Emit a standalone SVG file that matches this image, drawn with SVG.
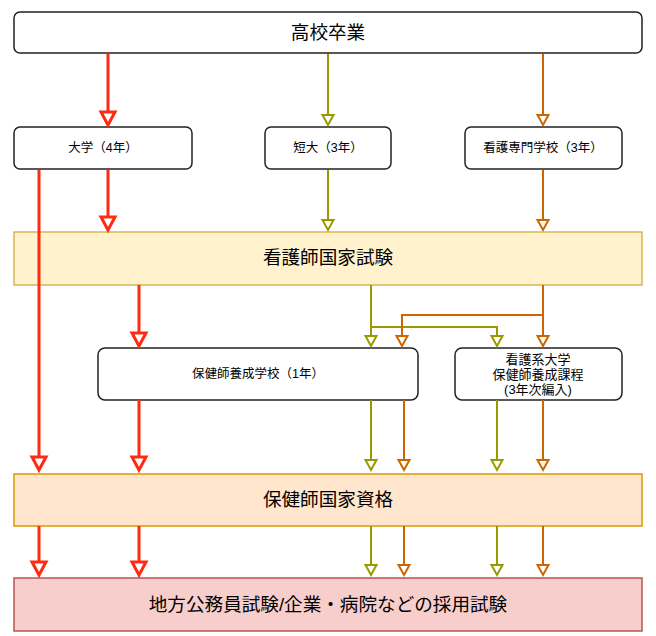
<svg xmlns="http://www.w3.org/2000/svg" width="656" height="636" viewBox="0 0 656 636">
<style>
text{font-family:"Liberation Sans","Noto Sans CJK JP",sans-serif;fill:#000;text-anchor:middle}
.big{font-size:18.6px}
.sm{font-size:12.5px}
.sm2{font-size:13px}
.box{fill:#fff;stroke:#222;stroke-width:1.5}
.red{stroke:#FF2A12;stroke-width:3;fill:none}
.oli{stroke:#999900;stroke-width:2;fill:none}
.ora{stroke:#CC6600;stroke-width:2;fill:none}
</style>
<defs>
<marker id="mr" markerUnits="userSpaceOnUse" markerWidth="20" markerHeight="20" refX="1" refY="7" orient="auto" viewBox="-2 -2 20 20" overflow="visible">
<path d="M1,0 L14,7 L1,14 Z" fill="#fff" stroke="#FF2A12" stroke-width="3"/>
</marker>
<marker id="mo" markerUnits="userSpaceOnUse" markerWidth="16" markerHeight="16" refX="1" refY="5.5" orient="auto" viewBox="-2 -2 16 16" overflow="visible">
<path d="M1,0 L11,5.5 L1,11 Z" fill="#fff" stroke="#999900" stroke-width="2"/>
</marker>
<marker id="mg" markerUnits="userSpaceOnUse" markerWidth="16" markerHeight="16" refX="1" refY="5.5" orient="auto" viewBox="-2 -2 16 16" overflow="visible">
<path d="M1,0 L11,5.5 L1,11 Z" fill="#fff" stroke="#CC6600" stroke-width="2"/>
</marker>
</defs>

<g id="n-koukou"><rect class="box" x="14" y="12" width="628" height="41" rx="6"/><text class="big" x="328" y="39">高校卒業</text></g>
<g id="n-daigaku"><rect class="box" x="14" y="127" width="178" height="42" rx="6"/><text class="sm" x="103" y="152">大学（4年）</text></g>
<g id="n-tandai"><rect class="box" x="265" y="127" width="126" height="42" rx="6"/><text class="sm" x="328" y="152">短大（3年）</text></g>
<g id="n-senmon"><rect class="box" x="465" y="127" width="157" height="42" rx="6"/><text class="sm" x="543" y="152">看護専門学校（3年）</text></g>
<g id="n-kangoshi"><rect x="14" y="232" width="628" height="53" fill="#fff2cc" stroke="#d6b656" stroke-width="1.5"/><text class="big" x="328" y="264">看護師国家試験</text></g>
<g id="n-yousei"><rect class="box" x="98" y="348" width="320" height="52" rx="7"/><text class="sm" x="258" y="378">保健師養成学校（1年）</text></g>
<g id="n-hennyu"><rect class="box" x="455" y="348" width="167" height="52" rx="7"/><text class="sm2" x="538" y="364">看護系大学</text><text class="sm2" x="538" y="379">保健師養成課程</text><text class="sm2" x="538" y="394">(3年次編入)</text></g>
<g id="n-hokenshi"><rect x="14" y="474" width="628" height="52" fill="#ffe6cc" stroke="#d79b00" stroke-width="1.5"/><text class="big" x="328" y="506">保健師国家資格</text></g>
<g id="n-saiyou"><rect x="14" y="578" width="628" height="53" fill="#f8cecc" stroke="#b85450" stroke-width="1.5"/><text class="big" x="328" y="611">地方公務員試験/企業・病院などの採用試験</text></g>

<g id="connectors">
<path class="red" marker-end="url(#mr)" d="M108,54 V112"/>
<path class="red" marker-end="url(#mr)" d="M108,170 V217"/>
<path class="red" marker-end="url(#mr)" d="M39,170 V457"/>
<path class="red" marker-end="url(#mr)" d="M139,285 V333"/>
<path class="red" marker-end="url(#mr)" d="M139,400 V457"/>
<path class="red" marker-end="url(#mr)" d="M39,526 V562"/>
<path class="red" marker-end="url(#mr)" d="M139,526 V562"/>

<path class="oli" marker-end="url(#mo)" d="M328,54 V115"/>
<path class="oli" marker-end="url(#mo)" d="M328,170 V220"/>
<path class="oli" marker-end="url(#mo)" d="M371,285 V336"/>
<path class="oli" marker-end="url(#mo)" d="M371,327 H497 V336"/>
<path class="oli" marker-end="url(#mo)" d="M371,400 V460"/>
<path class="oli" marker-end="url(#mo)" d="M497,400 V460"/>
<path class="oli" marker-end="url(#mo)" d="M371,526 V565"/>
<path class="oli" marker-end="url(#mo)" d="M497,526 V565"/>

<path class="ora" marker-end="url(#mg)" d="M543,54 V115"/>
<path class="ora" marker-end="url(#mg)" d="M543,170 V220"/>
<path class="ora" marker-end="url(#mg)" d="M543,285 V336"/>
<path class="ora" marker-end="url(#mg)" d="M543,315 H402 V336"/>
<path class="ora" marker-end="url(#mg)" d="M404,400 V460"/>
<path class="ora" marker-end="url(#mg)" d="M543,400 V460"/>
<path class="ora" marker-end="url(#mg)" d="M404,526 V565"/>
<path class="ora" marker-end="url(#mg)" d="M543,526 V565"/>
</g>
</svg>
